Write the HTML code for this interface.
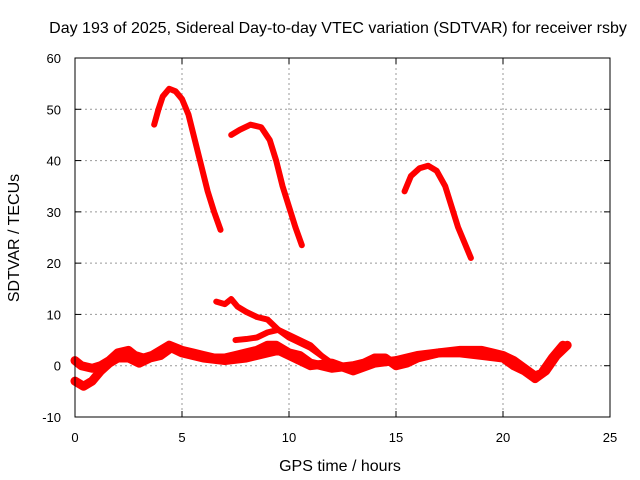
<!DOCTYPE html>
<html><head><meta charset="utf-8"><style>
body{margin:0;background:#fff;}
svg{display:block;font-family:"Liberation Sans",sans-serif;}
</style></head><body>
<svg id="chart" width="640" height="480">
<text x="338" y="33" font-size="16" text-anchor="middle">Day 193 of 2025, Sidereal Day-to-day VTEC variation (SDTVAR) for receiver rsby</text>
<text x="340" y="471" font-size="16" text-anchor="middle">GPS time / hours</text>
<text transform="translate(19,238) rotate(-90)" font-size="16" text-anchor="middle">SDTVAR / TECUs</text>
<g id="grid"></g><g id="ticks"></g><g id="series"></g>
<rect x="75" y="58" width="535" height="359" fill="none" stroke="#000" stroke-width="1"/>
</svg>
<script>
const xTicks=[0,5,10,15,20,25];
const yTicks=[-10,0,10,20,30,40,50,60];
const arc1=[[3.7,47],[3.9,50],[4.1,52.5],[4.4,54],[4.7,53.5],[5.0,52],[5.3,49],[5.6,44],[5.9,39],[6.2,34],[6.5,30],[6.8,26.5]];
const arc2=[[7.3,45],[7.7,46],[8.2,47],[8.7,46.5],[9.1,44],[9.4,40],[9.7,35],[10.0,31],[10.3,27],[10.6,23.5]];
const arc3=[[15.4,34],[15.7,37],[16.1,38.5],[16.5,39],[16.9,38],[17.3,35],[17.6,31],[17.9,27],[18.2,24],[18.5,21]];
const trace4=[[6.6,12.5],[7.0,12],[7.3,13],[7.6,11.5],[8.0,10.5],[8.5,9.5],[9.0,9],[9.5,7],[10,6],[10.5,5],[11,4],[11.5,2],[12,0.5]];
const trace5=[[7.5,5],[8.0,5.2],[8.5,5.5],[9.0,6.5],[9.5,7],[10,5.5],[10.5,4.5],[11,3.5],[11.5,2]];
const bandA=[[0,1],[0.3,0],[0.8,-0.5],[1.2,0],[1.6,1],[2,2.5],[2.5,3],[2.8,2],[3.2,1.5],[3.6,2],[4,3],[4.4,4],[5,3],[5.5,2.5],[6,2],[6.5,1.5],[7,1.5],[7.5,2],[8,2.5],[8.5,3],[9,4],[9.4,4],[10,2.5],[10.5,2],[11,0.5],[12,-0.5],[13,0],[13.5,0.5],[14,1.5],[14.5,1.5],[15,0],[15.5,0.5],[16,1.5],[17,2.5],[18,3],[19,3],[19.5,2.5],[20,2],[20.5,1],[21,-0.5],[21.5,-2],[21.8,-1.5],[22.3,1.5],[22.8,4]];
const bandB=[[0,-3],[0.4,-4],[0.8,-3],[1.2,-1],[1.6,0.5],[2,1.5],[2.5,1.5],[3,0.5],[3.5,1.5],[4,2],[4.5,3.5],[5,2.5],[6,1.5],[7,1],[8,1.5],[9,2.5],[9.5,3],[10,2],[10.5,1],[11,0],[12,0.5],[13,-1],[14,0.5],[15,1],[16,2],[17,2.5],[18,2.5],[19,2],[20,1.5],[20.5,0],[21,-1],[21.5,-2.5],[22,-1],[22.5,2],[23,4]];
const X=v=>75+v*535/25, Y=v=>417-(v+10)*359/70;
const NS="http://www.w3.org/2000/svg";
const g=document.getElementById('grid'),t=document.getElementById('ticks'),s=document.getElementById('series');
function mk(tag,attrs,parent){const e=document.createElementNS(NS,tag);for(const k in attrs)e.setAttribute(k,attrs[k]);parent.appendChild(e);return e;}
xTicks.forEach(v=>{
 if(v>0&&v<25){const l=mk('line',{x1:X(v),x2:X(v),y1:58,y2:417,stroke:'#999','stroke-dasharray':'2,3'},g);
 
 }
 const tk=mk('text',{x:X(v),y:442,'font-size':13,'text-anchor':'middle'},t);tk.textContent=v;
 
 
 mk('line',{x1:X(v),x2:X(v),y1:417,y2:411,stroke:'#000'},t);
 mk('line',{x1:X(v),x2:X(v),y1:58,y2:64,stroke:'#000'},t);
});
yTicks.forEach(v=>{
 if(v>-10&&v<60){const l=mk('line',{x1:75,x2:610,y1:Y(v),y2:Y(v),stroke:'#999','stroke-dasharray':'2,3'},g);
 
 }
 const tk=mk('text',{x:61,y:Y(v)+5,'font-size':13,'text-anchor':'end'},t);tk.textContent=v;
 
 
 mk('line',{x1:75,x2:81,y1:Y(v),y2:Y(v),stroke:'#000'},t);
 mk('line',{x1:604,x2:610,y1:Y(v),y2:Y(v),stroke:'#000'},t);
});
const traces=[[arc1,6,'arc-1'],[arc2,6,'arc-2'],[arc3,6,'arc-3'],[trace4,6,'trace-4'],[trace5,6,'trace-5'],[bandA,9,'band-a'],[bandB,9,'band-b']];
traces.forEach(([d,w,n])=>{
 const p=mk('polyline',{points:d.map(q=>X(q[0])+','+Y(q[1])).join(' '),fill:'none',stroke:'#f00','stroke-width':w,'stroke-linejoin':'round','stroke-linecap':'round'},s);
 
 
});
</script>
</body></html>
